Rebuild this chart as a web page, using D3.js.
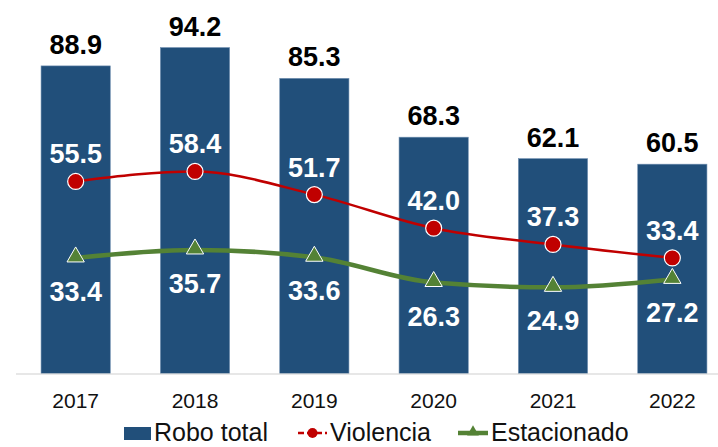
<!DOCTYPE html>
<html><head><meta charset="utf-8">
<script src="https://cdn.jsdelivr.net/npm/d3@7"></script>
<style>body{margin:0;background:#fff}svg{display:block}</style>
</head><body>
<script>
const years = ["2017","2018","2019","2020","2021","2022"];
const roboTotal = [88.9, 94.2, 85.3, 68.3, 62.1, 60.5];
const violencia = [55.5, 58.4, 51.7, 42.0, 37.3, 33.4];
const estacionado = [33.4, 35.7, 33.6, 26.3, 24.9, 27.2];
const seriesNames = ["Robo total", "Violencia", "Estacionado"];

const W = 718, H = 447;
const FONT = "'Liberation Sans', Arial, sans-serif";
const svg = d3.select("body").append("svg").attr("width", W).attr("height", H);

const x = d3.scaleBand().domain(years).range([16, 732]).paddingInner(0.42).paddingOuter(0.21);
const y = d3.scaleLinear().domain([0, 100]).range([373.5, 27.5]);
const cx = d => x(d) + x.bandwidth() / 2;

// bars
svg.selectAll("rect.bar").data(years).enter().append("rect")
  .attr("x", d => x(d)).attr("width", x.bandwidth())
  .attr("y", (d, i) => y(roboTotal[i])).attr("height", (d, i) => y(0) - y(roboTotal[i]))
  .attr("fill", "#214f7a").attr("stroke", "#6f8fb0").attr("stroke-width", 0.6);

// axis
const axis = d3.axisBottom(x).tickSize(0).tickPadding(20);
const gx = svg.append("g").attr("transform", `translate(0,${y(0)})`).call(axis);
gx.select(".domain").attr("stroke", "#d0d0d0").attr("stroke-width", 1.2).attr("d", "M16,0.5H718");
gx.selectAll("text").attr("font-family", FONT).attr("font-size", 21).attr("fill", "#111");

// bar labels
svg.selectAll("text.tot").data(years).enter().append("text")
  .attr("x", cx).attr("y", (d, i) => y(roboTotal[i]) - 12)
  .attr("text-anchor", "middle").attr("font-family", FONT).attr("font-weight", "bold")
  .attr("font-size", 27).attr("fill", "#000").text((d, i) => roboTotal[i].toFixed(1));

const line = d3.line().x(d => cx(d[0])).y(d => y(d[1])).curve(d3.curveMonotoneX);

// estacionado line
const estData = years.map((d, i) => [d, estacionado[i]]);
svg.append("path").attr("d", line(estData)).attr("fill", "none").attr("stroke", "#548235").attr("stroke-width", 4.5);
const tri = d3.symbol().type(d3.symbolTriangle).size(130);
svg.selectAll("path.tri").data(estData).enter().append("path")
  .attr("d", tri).attr("transform", d => `translate(${cx(d[0])},${y(d[1]) - 1})`)
  .attr("fill", "#548235").attr("stroke", "#fff").attr("stroke-width", 1);

// violencia line
const vioData = years.map((d, i) => [d, violencia[i]]);
svg.append("path").attr("d", line(vioData)).attr("fill", "none").attr("stroke", "#c00000").attr("stroke-width", 2.5);
svg.selectAll("circle.vio").data(vioData).enter().append("circle")
  .attr("cx", d => cx(d[0])).attr("cy", d => y(d[1])).attr("r", 8)
  .attr("fill", "#c00000").attr("stroke", "#fff").attr("stroke-width", 1.2);

// line labels
svg.selectAll("text.vio").data(vioData).enter().append("text")
  .attr("x", d => cx(d[0])).attr("y", d => y(d[1]) - 18)
  .attr("text-anchor", "middle").attr("font-family", FONT).attr("font-weight", "bold")
  .attr("font-size", 27).attr("fill", "#fff").text(d => d[1].toFixed(1));
svg.selectAll("text.est").data(estData).enter().append("text")
  .attr("x", d => cx(d[0])).attr("y", d => y(d[1]) + 43)
  .attr("text-anchor", "middle").attr("font-family", FONT).attr("font-weight", "bold")
  .attr("font-size", 27).attr("fill", "#fff").text(d => d[1].toFixed(1));

// legend
const lg = svg.append("g");
const ly = 441;
lg.append("rect").attr("x", 124).attr("y", 427).attr("width", 27).attr("height", 13).attr("fill", "#214f7a");
lg.append("text").attr("x", 154).attr("y", ly).attr("font-family", FONT).attr("font-size", 25).attr("fill", "#111").text(seriesNames[0]);
lg.append("line").attr("x1", 298).attr("x2", 327).attr("y1", 433).attr("y2", 433).attr("stroke", "#c00000").attr("stroke-width", 2.5).attr("stroke-dasharray", "6,3");
lg.append("circle").attr("cx", 312.5).attr("cy", 433).attr("r", 5).attr("fill", "#c00000");
lg.append("text").attr("x", 330).attr("y", ly).attr("font-family", FONT).attr("font-size", 25).attr("fill", "#111").text(seriesNames[1]);
lg.append("line").attr("x1", 458).attr("x2", 488).attr("y1", 433).attr("y2", 433).attr("stroke", "#548235").attr("stroke-width", 4.5);
lg.append("path").attr("d", d3.symbol().type(d3.symbolTriangle).size(60)).attr("transform", "translate(473,432)").attr("fill", "#548235");
lg.append("text").attr("x", 491).attr("y", ly).attr("font-family", FONT).attr("font-size", 25).attr("fill", "#111").text(seriesNames[2]);
</script>
</body></html>
